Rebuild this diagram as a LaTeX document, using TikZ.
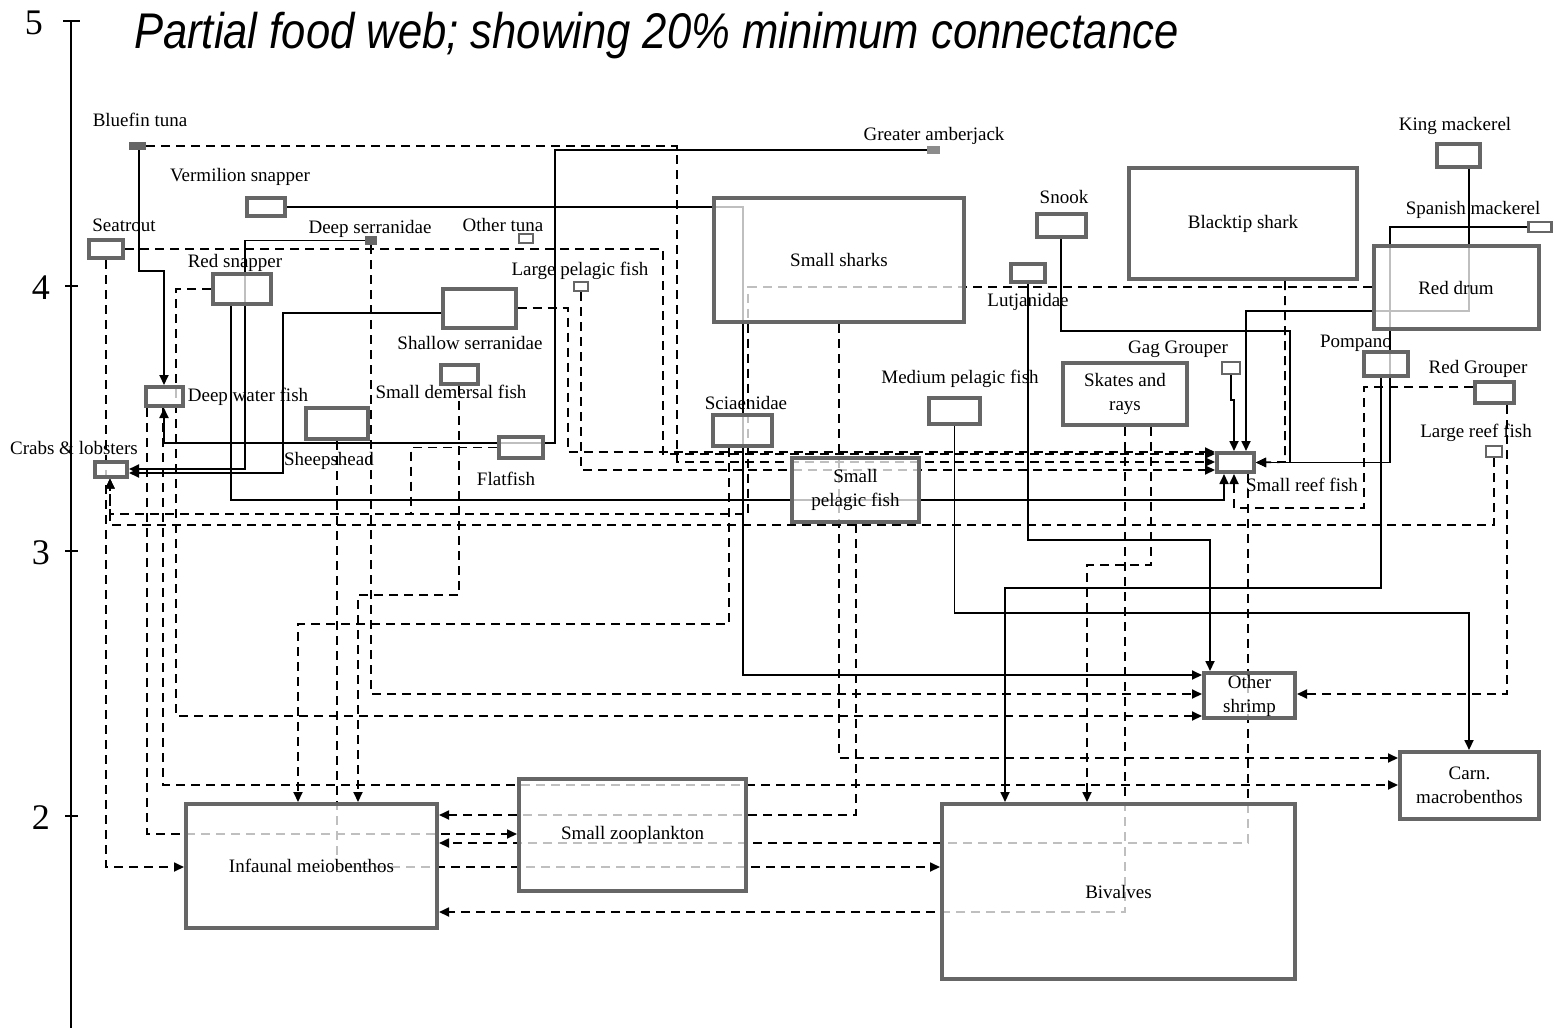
\documentclass[tikz,border=0pt]{standalone}
\usepackage{fontspec}
\setmainfont{Liberation Serif}
\newfontfamily\titlefont{Liberation Sans}
\usetikzlibrary{arrows.meta}
\pgfdeclarelayer{bg}
\pgfsetlayers{bg,main}
\tikzset{
  sz/.style 2 args={minimum width=#1*0.5pt, minimum height=#2*0.5pt},
  grp/.style={draw=black!60, line width=2pt, fill=white, fill opacity=0.75, text opacity=1, inner sep=0pt, align=center},
  smbox/.style={draw=black!60, line width=1.4pt, fill=white, fill opacity=0.75, inner sep=0pt},
  dotbox/.style={draw=black!60, line width=1pt, fill=black!60, inner sep=0pt},
  lbl/.style={inner sep=1pt},
  feed/.style={line width=0.9pt, -{Triangle[length=5pt,width=4.5pt]}},
  feedd/.style={feed, dash pattern=on 4.5pt off 3pt},
}

\begin{document}
\begin{tikzpicture}[x=0.5pt,y=-0.5pt,font=\fontsize{9.5}{12}\selectfont]
  \useasboundingbox (0,0) rectangle (1556,1028);

  % trophic level axis
  \draw[line width=1pt] (71,21) -- (71,1028);
  \draw[line width=1pt] (63,21) -- (80,21);
  \foreach \y/\t/\x in {21/5/34, 286/4/41, 551/3/41, 816/2/41} {
    \draw[line width=1pt] (65,\y) -- (78,\y);
    \node[font=\fontsize{18}{18}\selectfont] at (\x,\y+2) {\t};
  }
  \node[anchor=base west, yscale=1.15, transform shape,
        font=\titlefont\itshape\fontsize{21.8}{24}\selectfont] (title) at (127,48)
    {Partial food web; showing 20\% minimum connectance};

  % groups
  \node[dotbox, sz={15}{6}] (bluefin) at (137.5,146) {};
  \node[grp, sz={38}{18}] (vermilion) at (266,207) {};
  \node[grp, sz={34}{18}] (seatrout) at (106,249) {};
  \node[dotbox, sz={10}{7}] (deepser) at (371,240.5) {};
  \node[smbox, sz={14}{9}] (othertuna) at (526,238.5) {};
  \node[grp, sz={58}{30}] (redsnap) at (242,289) {};
  \node[smbox, sz={14}{9}] (lpelagic) at (581,286.5) {};
  \node[dotbox, fill=black!45, draw=black!45, sz={11}{6}] (amberjack) at (933.5,150) {};
  \node[grp, sz={73}{39}] (shallowser) at (479,308.5) {};
  \node[grp, sz={37}{19}] (smalldem) at (459,374.5) {};
  \node[grp, sz={37}{19}] (deepwater) at (164.5,396.5) {};
  \node[grp, sz={32}{15}] (crabs) at (111,469) {};
  \node[grp, sz={62}{31}] (sheeps) at (337,423.5) {};
  \node[grp, sz={44}{21}] (flatfish) at (521,447.5) {};
  \node[grp, sz={59}{31}] (sciaen) at (742.5,430.5) {};
  \node[grp, sz={51}{26}] (medpel) at (954.5,411) {};
  \node[grp, sz={250}{124}] (smallsharks) at (839,260) {Small sharks};
  \node[grp, sz={49}{23}] (snook) at (1061,225.5) {};
  \node[grp, sz={34}{18}] (lutj) at (1028,273) {};
  \node[grp, sz={228}{111}] (blacktip) at (1243,223.5) {Blacktip shark};
  \node[grp, sz={43}{23}] (kingmack) at (1458,155.5) {};
  \node[smbox, sz={23}{10}] (spanmack) at (1540,227) {};
  \node[grp, sz={165}{83}] (reddrum) at (1456,287.5) {Red drum};
  \node[smbox, sz={18}{12}] (gag) at (1231,368) {};
  \node[grp, sz={124}{62}] (skates) at (1125,394) {Skates and\\rays};
  \node[grp, sz={44}{24}] (pompano) at (1386,364) {};
  \node[grp, sz={39}{21}] (redgroup) at (1494.5,392.5) {};
  \node[smbox, sz={16}{11}] (largereef) at (1494,451.5) {};
  \node[grp, sz={37}{19}] (smallreef) at (1235.5,462.5) {};
  \node[grp, sz={127}{64}] (smallpel) at (855.5,490) {Small\\pelagic fish};
  \node[grp, sz={91}{45}] (othershrimp) at (1249.5,695.5) {Other\\shrimp};
  \node[grp, sz={139}{67}] (carn) at (1469.5,785.5) {Carn.\\macrobenthos};
  \node[grp, sz={353}{175}] (bivalves) at (1118.5,891.5) {Bivalves};
  \node[grp, sz={251}{124}] (infaunal) at (311.5,866) {Infaunal meiobenthos};
  \node[grp, sz={227}{112}] (zoo) at (632.5,835) {Small zooplankton};
  \coordinate (crabjoin) at (411,514);

  % names beside the small boxes
  \node[lbl] (bluefin-t) at (140,120) {Bluefin tuna};
  \node[lbl] (vermilion-t) at (240,177) {Vermilion snapper};
  \node[lbl] (seatrout-t) at (124,225) {Seatrout};
  \node[lbl] (deepser-t) at (370,229) {Deep serranidae};
  \node[lbl] (othertuna-t) at (503,225) {Other tuna};
  \node[lbl] (redsnap-t) at (235,263) {Red snapper};
  \node[lbl] (lpelagic-t) at (580,271) {Large pelagic fish};
  \node[lbl] (amberjack-t) at (934,136) {Greater amberjack};
  \node[lbl] (shallowser-t) at (470,343) {Shallow serranidae};
  \node[lbl] (smalldem-t) at (451,392) {Small demersal fish};
  \node[lbl] (deepwater-t) at (248,397) {Deep water fish};
  \node[lbl] (crabs-t) at (74,448) {Crabs \& lobsters};
  \node[lbl] (sheeps-t) at (329,461) {Sheepshead};
  \node[lbl] (flatfish-t) at (506,479) {Flatfish};
  \node[lbl] (sciaen-t) at (746,403) {Sciaenidae};
  \node[lbl] (medpel-t) at (960,379) {Medium pelagic fish};
  \node[lbl] (snook-t) at (1064,197) {Snook};
  \node[lbl] (lutj-t) at (1028,302) {Lutjanidae};
  \node[lbl] (kingmack-t) at (1455,126) {King mackerel};
  \node[lbl] (spanmack-t) at (1473,210) {Spanish mackerel};
  \node[lbl] (gag-t) at (1178,349) {Gag Grouper};
  \node[lbl] (pompano-t) at (1356,343) {Pompano};
  \node[lbl] (redgroup-t) at (1478,369) {Red Grouper};
  \node[lbl] (largereef-t) at (1476,433) {Large reef fish};
  \node[lbl] (smallreef-t) at (1302,485) {Small reef fish};

  \begin{pgfonlayer}{bg}
  % solid links
  \draw[feed] (139,0 |- bluefin.south) -- (139,271) -- (164,271) -- (164,0 |- deepwater.north);
  \draw[feed] (vermilion.east) -- (743,207) -- (743,675) -- (othershrimp.west |- 0,675);
  \draw[feed] (amberjack.west) -- (555,150) -- (555,443) -- (164,443) -- (164,0 |- deepwater.south);
  \draw[feed] (deepser.west) -- (245,240.5) -- (245,469) -- (crabs.east |- 0,469);
  \draw[feed] (shallowser.west |- 0,313) -- (283,313) -- (283,473) -- (crabs.east |- 0,473);
  \draw[feed] (231,0 |- redsnap.south) -- (231,500) -- (1224,500) -- (1224,0 |- smallreef.south);
  \draw[feed] (snook.south) |- (1290,331) |- (smallreef.east);
  \draw[feed] (spanmack.west) -- (1390,227) |- (smallreef.east);
  \draw[feed] (1469,0 |- kingmack.south) -- (1469,311) -- (1246,311) -- (1246,0 |- smallreef.north);
  \draw[feed] (gag.south) -- (1231,400) -- (1234,400) -- (1234,0 |- smallreef.north);
  \draw[feed] (1381,0 |- pompano.south) -- (1381,588) -- (1005,588) -- (1005,0 |- bivalves.north);
  \draw[feed] (lutj.south) -- (1028,540) -- (1210,540) -- (1210,0 |- othershrimp.north);
  \draw[feed] (medpel.south) -- (954.5,613) -- (1469,613) -- (1469,0 |- carn.north);

  % dashed links
  \draw[feedd] (bluefin.east) -- (677,146) -- (677,462) -- (smallreef.west |- 0,462);
  \draw[feedd] (seatrout.east) -- (663,249) -- (663,454) -- (smallreef.west |- 0,454);
  \draw[feedd] (shallowser.east |- 0,308) -- (568,308) -- (568,452) -- (smallreef.west |- 0,452);
  \draw[feedd] (lpelagic.south) -- (581,470) -- (smallreef.west |- 0,470);
  \draw[feedd] (redgroup.west |- 0,387) -- (1364,387) -- (1364,508) -- (1234,508) -- (1234,0 |- smallreef.south);
  \draw[feedd] (1285,0 |- blacktip.south) -- (1285,462) -- (smallreef.east);
  \draw[feedd] (reddrum.west |- 0,287) -- (748,287) -- (748,514) -- (110,514) -- (110,0 |- crabs.south);
  \draw[feedd, -] (flatfish.west) -| (crabjoin);
  \draw[feedd] (largereef.south) -- (1494,525) -- (110,525) -- (110,0 |- crabs.south);
  \draw[feedd] (106,0 |- seatrout.south) -- (106,867) -- (infaunal.west |- 0,867);
  \draw[feedd] (sheeps.south) -- (337,867) -- (bivalves.west |- 0,867);
  \draw[feedd] (147,0 |- deepwater.south) -- (147,834) -- (zoo.west |- 0,834);
  \draw[feedd] (163,0 |- deepwater.south) -- (163,785) -- (carn.west |- 0,785);
  \draw[feedd] (redsnap.west) -- (176,289) -- (176,716) -- (othershrimp.west |- 0,716);
  \draw[feedd] (deepser.south) -- (371,694) -- (othershrimp.west |- 0,694);
  \draw[feedd] (smalldem.south) -- (459,595) -- (358,595) -- (358,0 |- infaunal.north);
  \draw[feedd] (729,0 |- sciaen.south) -- (729,624) -- (298,624) -- (298,0 |- infaunal.north);
  \draw[feedd] (smallsharks.south) -- (839,758) -- (carn.west |- 0,758);
  \draw[feedd] (856,0 |- smallpel.south) -- (856,815) -- (infaunal.east |- 0,815);
  \draw[feedd] (1248,0 |- smallreef.south) -- (1248,843) -- (infaunal.east |- 0,843);
  \draw[feedd] (1151,0 |- skates.south) -- (1151,565) -- (1087,565) -- (1087,0 |- bivalves.north);
  \draw[feedd] (1125,0 |- skates.south) -- (1125,912) -- (infaunal.east |- 0,912);
  \draw[feedd] (1507,0 |- redgroup.south) -- (1507,694) -- (othershrimp.east |- 0,694);
  \end{pgfonlayer}
\end{tikzpicture}
\end{document}
